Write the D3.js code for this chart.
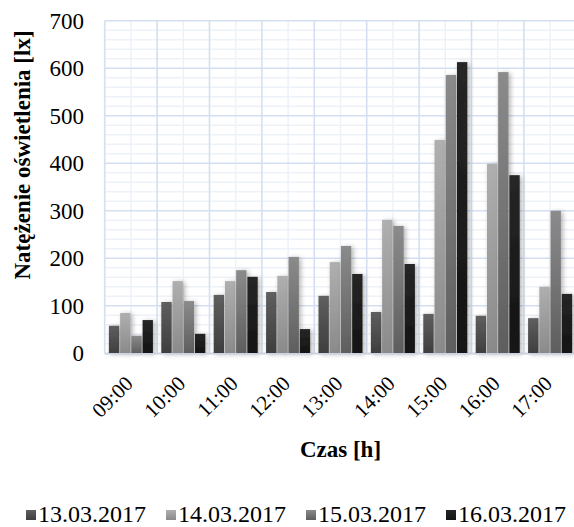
<!DOCTYPE html>
<html>
<head>
<meta charset="utf-8">
<script src="https://cdn.jsdelivr.net/npm/d3@7"></script>
<style>
  html, body { margin: 0; padding: 0; background: #fff; }
  svg text { font-family: "Liberation Serif", "Times New Roman", "DejaVu Serif", serif !important; }
</style>
</head>
<body>
<svg id="chart" width="574" height="527"></svg>
<script>
// Hours of measurement (x categories)
const hours = ["09:00", "10:00", "11:00", "12:00", "13:00", "14:00", "15:00", "16:00", "17:00"];
// Measurement days (series)
const days = ["13.03.2017", "14.03.2017", "15.03.2017", "16.03.2017"];
// Illuminance [lx] per day, one value per hour
const lux13 = [58, 108, 123, 129, 121, 87, 83, 79, 74];
const lux14 = [85, 152, 152, 163, 192, 281, 449, 399, 140];
const lux15 = [37, 110, 175, 203, 226, 268, 586, 592, 300];
const lux16 = [70, 41, 161, 51, 167, 188, 613, 375, 125];
const yTicks = [0, 100, 200, 300, 400, 500, 600, 700];

const series = [lux13, lux14, lux15, lux16];
// bar gradients (top, bottom) per series
const shades = [["#5f5f5f", "#3e3e3e"], ["#afafaf", "#8a8a8a"], ["#8b8b8b", "#5e5e5e"], ["#262626", "#141414"]];

const svg = d3.select("#chart");
const plotL = 104.7, plotR = 576.3, plotT = 20.8, plotB = 353.3;

const x = d3.scaleBand().domain(hours).range([plotL, plotR]).paddingInner(0.16).paddingOuter(0.08);
const xs = d3.scaleBand().domain(days).range([0, x.bandwidth()]).paddingInner(0.08);
const y = d3.scaleLinear().domain([0, 700]).range([plotB, plotT]);

const defs = svg.append("defs");
shades.forEach((s, i) => {
  const g = defs.append("linearGradient").attr("id", "g" + i)
    .attr("x1", 0).attr("y1", 0).attr("x2", 0).attr("y2", 1);
  g.append("stop").attr("offset", "0%").attr("stop-color", s[0]);
  g.append("stop").attr("offset", "100%").attr("stop-color", s[1]);
});
const f = defs.append("filter").attr("id", "shadow")
  .attr("x", "-40%").attr("y", "-10%").attr("width", "200%").attr("height", "130%");
f.append("feDropShadow").attr("dx", 2).attr("dy", 1).attr("stdDeviation", 2.5)
  .attr("flood-color", "#000").attr("flood-opacity", 0.3);

// Grid: minor lines first
const grid = svg.append("g");
const minorY = d3.range(0, 701, 20).filter(v => v % 100 !== 0);
grid.selectAll(".hmin").data(minorY).join("line")
  .attr("x1", plotL).attr("x2", plotR).attr("y1", d => y(d)).attr("y2", d => y(d))
  .attr("stroke", "#edf2f9").attr("stroke-width", 1.5);
grid.selectAll(".vmin").data(hours).join("line")
  .attr("x1", d => x(d) + x.bandwidth() / 2).attr("x2", d => x(d) + x.bandwidth() / 2)
  .attr("y1", plotT).attr("y2", plotB)
  .attr("stroke", "#edf2f9").attr("stroke-width", 1.5);
// major lines
grid.selectAll(".hmaj").data(yTicks).join("line")
  .attr("x1", plotL).attr("x2", plotR).attr("y1", d => y(d)).attr("y2", d => y(d))
  .attr("stroke", "#d4e0f1").attr("stroke-width", 1.6);
grid.selectAll(".vmaj").data(hours.concat(["end"])).join("line")
  .attr("x1", (d, i) => plotL + i * x.step()).attr("x2", (d, i) => plotL + i * x.step())
  .attr("y1", plotT).attr("y2", plotB)
  .attr("stroke", "#d4e0f1").attr("stroke-width", 1.6);

// Bars
const groups = svg.append("g").selectAll("g").data(hours).join("g")
  .attr("transform", d => `translate(${x(d)},0)`);
groups.selectAll("rect")
  .data((h, hi) => series.map((s, si) => ({ day: days[si], v: s[hi], si })))
  .join("rect")
  .attr("x", d => xs(d.day))
  .attr("width", xs.bandwidth())
  .attr("y", d => y(d.v))
  .attr("height", d => y(0) - y(d.v))
  .attr("fill", d => `url(#g${d.si})`)
  .attr("filter", "url(#shadow)");

// x axis base line
svg.append("line").attr("x1", plotL).attr("x2", plotR).attr("y1", plotB + 0.5).attr("y2", plotB + 0.5)
  .attr("stroke", "#c9d2de").attr("stroke-width", 1.5);

// Y axis labels
const yAxis = d3.axisLeft(y).tickValues(yTicks).tickSize(0).tickPadding(0);
const ya = svg.append("g").attr("transform", "translate(84,0)").call(yAxis);
ya.select(".domain").remove();
ya.selectAll("text").attr("font-size", 23).attr("fill", "#000");

// X axis labels, rotated
const xAxis = d3.axisBottom(x).tickSize(0).tickPadding(0);
const xa = svg.append("g").attr("transform", `translate(0,${plotB})`).call(xAxis);
xa.select(".domain").remove();
xa.selectAll("text")
  .attr("font-size", 21).attr("fill", "#000")
  .attr("text-anchor", "end").attr("dy", 0).attr("y", 0)
  .attr("transform", "translate(3.4,31.5) rotate(-45)");

// Axis titles
svg.append("text").attr("x", 340.5).attr("y", 457).attr("text-anchor", "middle")
  .attr("font-weight", "bold").attr("font-size", 23).text("Czas [h]");
svg.append("text").attr("transform", "translate(30,155) rotate(-90)").attr("text-anchor", "middle")
  .attr("font-weight", "bold").attr("font-size", 23).text("Natężenie oświetlenia [lx]");

// Legend spread between x = 26 and x = 565
const lg = svg.append("g");
const items = lg.selectAll("g").data(days).join("g");
items.append("rect").attr("width", 10).attr("height", 10).attr("y", 510)
  .attr("fill", (d, i) => `url(#g${i})`);
items.append("text").attr("x", 12).attr("y", 521.5).attr("font-size", 24).text(d => d);
const widths = [];
items.each(function () { widths.push(12 + this.querySelector("text").getComputedTextLength()); });
const legL = 26, legR = 566;
const gap = (legR - legL - d3.sum(widths)) / (widths.length - 1);
let cx = legL;
items.attr("transform", (d, i) => {
  const t = `translate(${cx},0)`;
  cx += widths[i] + gap;
  return t;
});
</script>
</body>
</html>
